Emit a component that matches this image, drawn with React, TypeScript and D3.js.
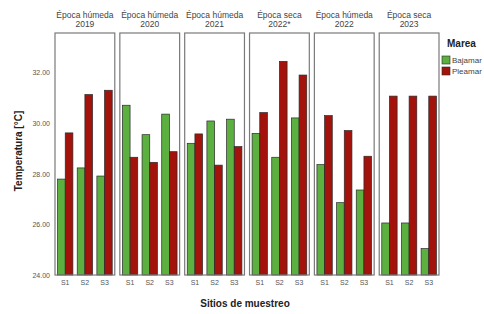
import React from "react";
import * as d3 from "d3";

const panels = ["Época húmeda|2019", "Época húmeda|2020", "Época húmeda|2021", "Época seca|2022*", "Época húmeda|2022", "Época seca|2023"];
const sites = ["S1", "S2", "S3"];
const bajamar = [
  [27.78, 28.22, 27.9],
  [30.69, 29.53, 30.34],
  [29.19, 30.07, 30.14],
  [29.58, 28.64, 30.19],
  [28.35, 26.85, 27.35],
  [26.05, 26.05, 25.04],
];
const pleamar = [
  [29.6, 31.11, 31.28],
  [28.64, 28.44, 28.86],
  [29.56, 28.33, 29.06],
  [30.4, 32.42, 31.88],
  [30.28, 29.69, 28.68],
  [31.05, 31.05, 31.05],
];
const yTicks = [24, 26, 28, 30, 32];
const seriesNames = ["Bajamar", "Pleamar"];
const colors = ["#5cb040", "#a3130c"];

export default function App() {
  const W = 484, H = 314;
  const top = 33, bottom = 275;
  const y = d3.scaleLinear().domain([24, 32]).range([bottom, 72]);
  const panelX = d3.scaleBand<number>().domain(d3.range(panels.length)).range([55, 439]).paddingInner(5 / 64).paddingOuter(0);
  const pw = panelX.bandwidth();
  const siteX = d3.scaleBand().domain(sites).range([0, pw]).paddingInner(0.22).paddingOuter(0.13);
  const serX = d3.scaleBand().domain(seriesNames).range([0, siteX.bandwidth()]);
  const font = "Arial, 'Liberation Sans', sans-serif";
  return (
    <svg width={W} height={H} style={{ position: "absolute", left: 0, top: 0, background: "#fff" }} fontFamily={font}>
      {yTicks.map((t) => (
        <text key={t} x={50} y={y(t) + 3} textAnchor="end" fontSize={7} fill="#555">
          {t.toFixed(2)}
        </text>
      ))}
      <text transform={`translate(22,151) rotate(-90)`} textAnchor="middle" fontSize={10} fontWeight="bold" fill="#222">
        Temperatura [°C]
      </text>
      {panels.map((p, i) => {
        const x0 = panelX(i)!;
        const [l1, l2] = p.split("|");
        return (
          <g key={i}>
            <text x={x0 + pw / 2} y={18} textAnchor="middle" fontSize={8.5} fill="#444">{l1}</text>
            <text x={x0 + pw / 2} y={27} textAnchor="middle" fontSize={8.5} fill="#444">{l2}</text>
            {sites.map((s, j) => {
              const sx = x0 + siteX(s)!;
              return (
                <g key={s}>
                  {[bajamar[i][j], pleamar[i][j]].map((v, k) => (
                    <rect
                      key={k}
                      x={sx + serX(seriesNames[k])!}
                      y={y(v)}
                      width={serX.bandwidth()}
                      height={bottom - y(v)}
                      fill={colors[k]}
                      stroke="#2a2a2a"
                      strokeWidth={0.7}
                    />
                  ))}
                  <text x={sx + siteX.bandwidth() / 2} y={285} textAnchor="middle" fontSize={7} fill="#555">{s}</text>
                </g>
              );
            })}
            <rect x={x0} y={top} width={pw} height={bottom - top} fill="none" stroke="#7a7a7a" strokeWidth={1.2} />
          </g>
        );
      })}
      <text x={245} y={307} textAnchor="middle" fontSize={10} fontWeight="bold" fill="#222">Sitios de muestreo</text>
      <text x={447} y={47} fontSize={10} fontWeight="bold" fill="#222">Marea</text>
      {seriesNames.map((n, k) => (
        <g key={n}>
          <rect x={442} y={56 + k * 11} width={8} height={8} fill={colors[k]} stroke="#2a2a2a" strokeWidth={0.6} />
          <text x={452} y={63 + k * 11} fontSize={8} fill="#444">{n}</text>
        </g>
      ))}
    </svg>
  );
}
